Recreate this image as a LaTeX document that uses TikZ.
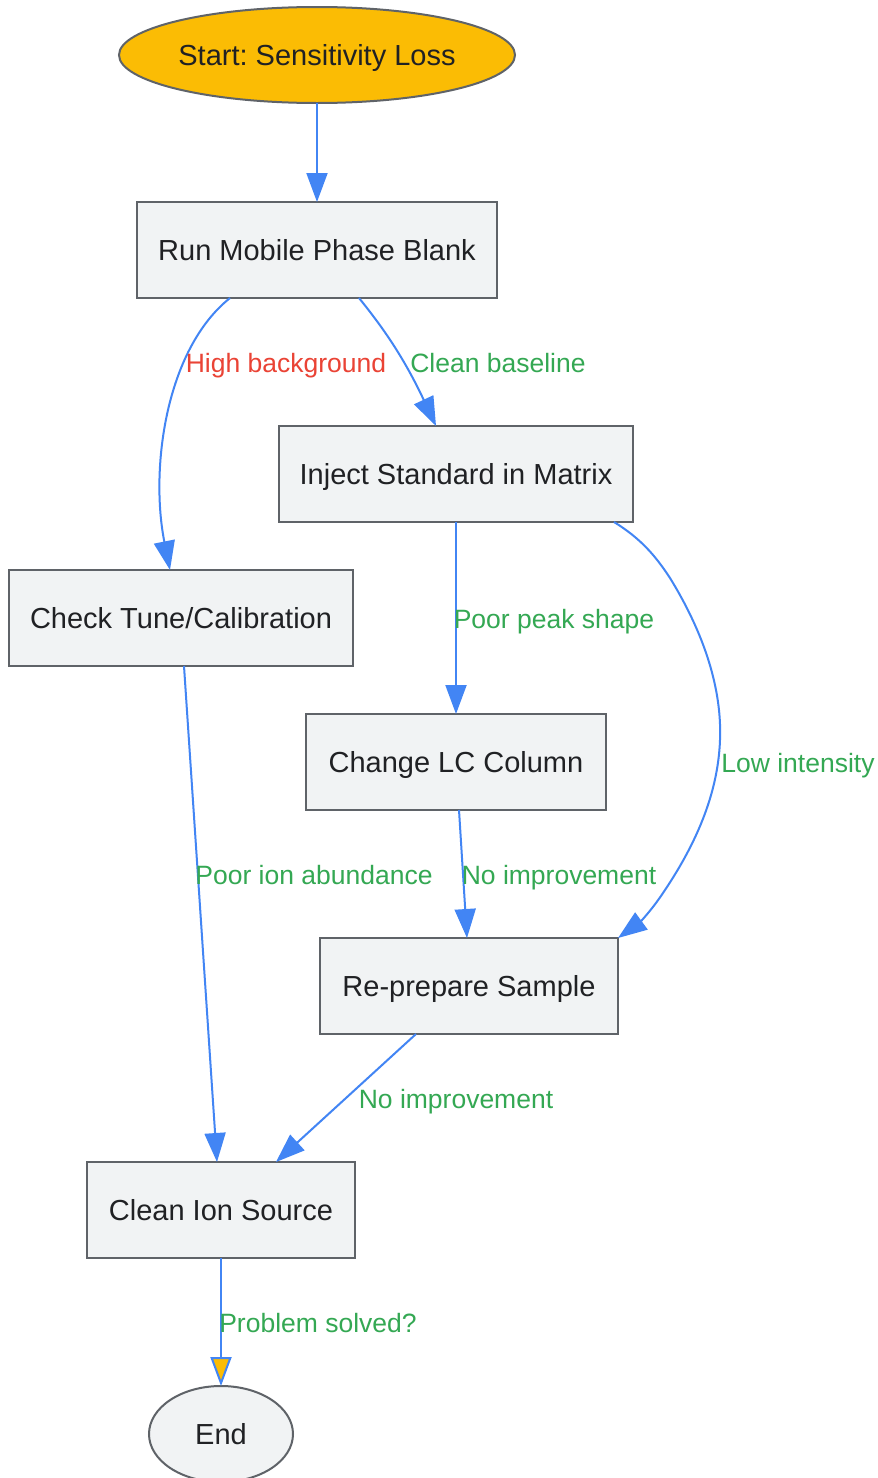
\documentclass[tikz,border=0pt]{standalone}
\usepackage{fontspec}
\setmainfont{Liberation Sans}
\usetikzlibrary{arrows.meta,shapes.geometric,calc}
\definecolor{nodefill}{HTML}{F1F3F4}
\definecolor{nodeline}{HTML}{5F6368}
\definecolor{startfill}{HTML}{FBBC04}
\definecolor{edgeblue}{HTML}{4285F4}
\definecolor{lblgreen}{HTML}{34A853}
\definecolor{lblred}{HTML}{EA4335}
\definecolor{txt}{HTML}{202124}
\frenchspacing
\tikzset{
  box/.style={draw=nodeline, fill=nodefill, line width=2pt, rectangle, inner sep=0pt, outer sep=0pt,
    text=txt, font=\fontsize{29}{34}\selectfont, text height=21pt, text depth=0pt},
  oval/.style={draw=nodeline, line width=2pt, ellipse, inner sep=0pt, outer sep=0pt,
    text=txt, font=\fontsize{29}{34}\selectfont, text height=21pt, text depth=0pt},
  conn/.style={draw=edgeblue, line width=2pt, -{Triangle[length=29pt,width=21pt]}},
  lbl/.style={font=\fontsize{26.5}{30}\selectfont, text=lblgreen, inner sep=0pt, text height=19pt, text depth=0pt},
  lblbad/.style={lbl, text=lblred},
}
\begin{document}
\begin{tikzpicture}[x=1pt,y=-1pt]
\useasboundingbox (0,0) rectangle (878,1478);
\fill[white] (0,0) rectangle (878,1478);
% nodes
\node[oval, fill=startfill, minimum width=396pt, minimum height=96pt] (start) at (317,55) {Start: Sensitivity Loss};
\node[box, minimum width=360pt, minimum height=96pt] (run) at (317,250) {Run Mobile Phase Blank};
\node[box, minimum width=354pt, minimum height=96pt] (inject) at (456,474) {Inject Standard in Matrix};
\node[box, minimum width=344pt, minimum height=96pt] (check) at (181,618) {Check Tune/Calibration};
\node[box, minimum width=300pt, minimum height=96pt] (change) at (456,762) {Change LC Column};
\node[box, minimum width=298pt, minimum height=96pt] (reprep) at (469,986) {Re-prepare Sample};
\node[box, minimum width=268pt, minimum height=96pt] (clean) at (221,1210) {Clean Ion Source};
\node[oval, fill=nodefill, minimum width=144pt, minimum height=96pt] (end) at (221,1434) {End};
% connectors
\draw[conn] (start.south) -- (run.north);
\draw[conn] ($(run.south)+(-87,0)$) .. controls (165,350) and (150,470) .. ($(check.north)+(-11,0)$);
\draw[conn] ($(run.south)+(42,0)$) .. controls (385,330) and (405,360) .. ($(inject.north)+(-20,0)$);
\draw[conn] (inject.south) -- (change.north);
\draw[conn] ($(inject.south)+(158,0)$) .. controls (640,538) and (655,555) .. (670,578)
  .. controls (705,635) and (722,690) .. (720,740)
  .. controls (718,795) and (695,845) .. (665,890)
  .. controls (652,910) and (640,922) .. ($(reprep.north)+(149,0)$);
\draw[conn] ($(change.south)+(3,0)$) -- ($(reprep.north)+(-2,0)$);
\draw[conn] ($(check.south)+(3,0)$) -- ($(clean.north)+(-4,0)$);
\draw[conn] ($(reprep.south)+(-53,0)$) -- ($(clean.north)+(55,0)$);
\draw[draw=edgeblue, line width=2pt, -{Triangle[length=29pt,width=21pt,fill=startfill]}] (clean.south) -- (end.north);
% labels
\node[lblbad] (l1) at (286,363) {High background};
\node[lbl] (l2) at (498,363) {Clean baseline};
\node[lbl] (l3) at (554,619) {Poor peak shape};
\node[lbl] (l4) at (798,763) {Low intensity};
\node[lbl] (l5) at (314,875) {Poor ion abundance};
\node[lbl] (l6) at (559,875) {No improvement};
\node[lbl] (l7) at (456,1099) {No improvement};
\node[lbl] (l8) at (318,1323) {Problem solved?};
\end{tikzpicture}
\end{document}
